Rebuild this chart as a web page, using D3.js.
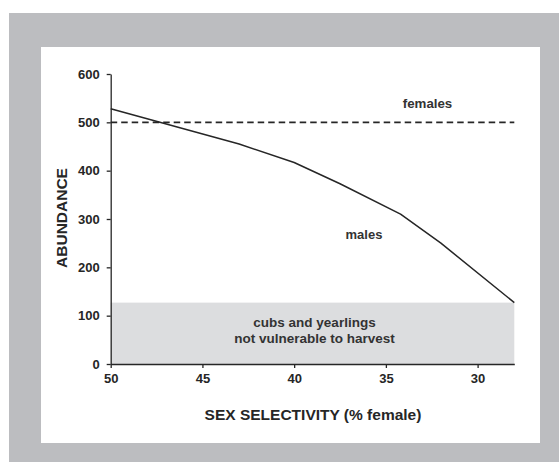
<!DOCTYPE html>
<html><head><meta charset="utf-8">
<script src="https://cdn.jsdelivr.net/npm/d3@7"></script>
<style>
html,body{margin:0;padding:0;background:#fff;}
svg{display:block;font-family:Arial,"Liberation Sans",Helvetica,sans-serif;}
</style></head>
<body>
<svg id="chart" width="559" height="462"></svg>
<script>
// Data
const malesX = [50, 43, 40, 37.5, 34.2, 32, 28];
const malesY = [528, 455, 417, 373, 310, 250, 127];
const femalesX = [50, 28];
const femalesY = [500, 500];
const bandX = [50, 28];
const bandTop = 127;
const xTicks = [50, 45, 40, 35, 30];
const yTicks = [0, 100, 200, 300, 400, 500, 600];
const bandLabel = ["cubs and yearlings", "not vulnerable to harvest"];
const xTitle = "SEX SELECTIVITY (% female)";
const yTitle = "ABUNDANCE";

const svg = d3.select("#chart");
// frame
svg.append("rect").attr("x", 9).attr("y", 13).attr("width", 550).attr("height", 449).attr("fill", "#bcbdc0");
svg.append("rect").attr("x", 41).attr("y", 47).attr("width", 499).attr("height", 396).attr("fill", "#ffffff");

const x = d3.scaleLinear().domain([50, 28]).range([110.7, 514.3]);
const y = d3.scaleLinear().domain([0, 600]).range([364, 74]);
const ink = "#262626";

// band
svg.append("rect")
  .attr("x", x(bandX[0])).attr("y", y(bandTop))
  .attr("width", x(bandX[1]) - x(bandX[0]))
  .attr("height", y(0) - y(bandTop))
  .attr("fill", "#dcdddf");

const midX = (x(bandX[0]) + x(bandX[1])) / 2;
svg.selectAll("text.band").data(bandLabel).join("text")
  .attr("class", "band")
  .attr("x", midX + 2)
  .attr("y", (d, i) => 327 + i * 16)
  .attr("text-anchor", "middle")
  .attr("font-size", 13.5).attr("font-weight", "bold").attr("fill", "#333")
  .text(d => d);

// females dashed
svg.append("path")
  .datum(femalesX.map((v, i) => [v, femalesY[i]]))
  .attr("d", d3.line().x(d => x(d[0])).y(d => y(d[1])))
  .attr("fill", "none").attr("stroke", ink).attr("stroke-width", 1.6)
  .attr("stroke-dasharray", "6.5,4");

// males
svg.append("path")
  .datum(malesX.map((v, i) => [v, malesY[i]]))
  .attr("d", d3.line().x(d => x(d[0])).y(d => y(d[1])))
  .attr("fill", "none").attr("stroke", ink).attr("stroke-width", 1.5)
  .attr("stroke-linejoin", "round");

// axes
const yAxis = svg.append("g").attr("transform", `translate(${x(50)},0)`)
  .call(d3.axisLeft(y).tickValues(yTicks).tickSize(4).tickSizeOuter(0).tickPadding(7));
const xAxis = svg.append("g").attr("transform", `translate(0,${y(0)})`)
  .call(d3.axisBottom(x).tickValues(xTicks).tickSize(4).tickSizeOuter(0).tickPadding(6));
[yAxis, xAxis].forEach(g => {
  g.select(".domain").attr("stroke", ink).attr("stroke-width", 1.3);
  g.selectAll(".tick line").attr("stroke", ink).attr("stroke-width", 1.3);
  g.selectAll(".tick text").attr("font-size", 13).attr("font-weight", "bold")
    .attr("fill", ink).attr("font-family", "Arial, 'Liberation Sans', sans-serif");
});

// labels
svg.append("text").attr("x", 427.5).attr("y", 108).attr("text-anchor", "middle")
  .attr("font-size", 13.3).attr("font-weight", "bold").attr("fill", "#333").text("females");
svg.append("text").attr("x", 364).attr("y", 238.5).attr("text-anchor", "middle")
  .attr("font-size", 13).attr("font-weight", "bold").attr("fill", "#333").text("males");

// titles
svg.append("text").attr("x", 313).attr("y", 419.5).attr("text-anchor", "middle")
  .attr("font-size", 15.5).attr("font-weight", "bold").attr("fill", ink).text(xTitle);
svg.append("text").attr("transform", "translate(67,218) rotate(-90)").attr("text-anchor", "middle")
  .attr("font-size", 15.5).attr("font-weight", "bold").attr("fill", ink).text(yTitle);
</script>
</body></html>
